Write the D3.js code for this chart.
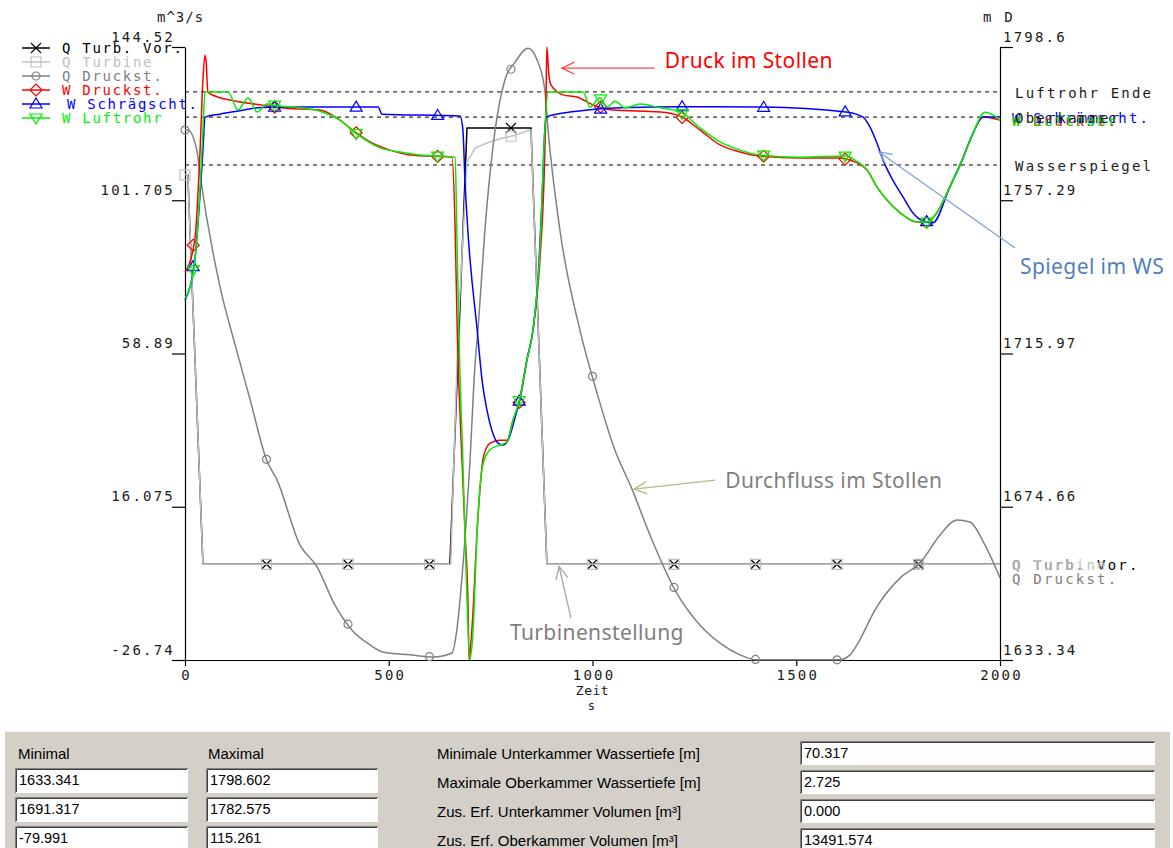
<!DOCTYPE html>
<html>
<head>
<meta charset="utf-8">
<script src="https://cdn.jsdelivr.net/npm/d3@7"></script>
<style>
  body { margin: 0; background: #fff; }
  .mono { font-family: 'DejaVu Sans Mono', monospace; font-size: 14px; letter-spacing: 2.2px; }
  .note { font-family: 'Noto Sans', sans-serif; font-size: 21px; letter-spacing: 0.4px; }
  .panel { font-family: 'Liberation Sans', Arial, sans-serif; font-size: 14.5px; fill: #000; }
  .plabel { font-family: 'Liberation Sans', Arial, sans-serif; font-size: 15px; fill: #000; }
</style>
</head>
<body>
<svg id="chart" width="1173" height="848"></svg>
<script>
// ---- data ----
const xTicks = [0, 500, 1000, 1500, 2000];
const qTicks = [144.52, 101.705, 58.89, 16.075, -26.74];
const qTickLabels = ['144.52', '101.705', '58.89', '16.075', '-26.74'];
const wTicks = [1798.6, 1757.29, 1715.97, 1674.66, 1633.34];
const wTickLabels = ['1798.6', '1757.29', '1715.97', '1674.66', '1633.34'];

const seriesNames = ['Q Turb. Vor.', 'Q Turbine', 'Q Druckst.', 'W Druckst.', 'W Schrägscht.', 'W Luftrohr'];

const refNames = ['Luftrohr Ende', 'Oberkammer', 'Wasserspiegel'];
const refLevels = [1786.5, 1779.7, 1766.8];

const markTQ = [0, 200, 400, 600, 800, 1000, 1200, 1400, 1600, 1800];
const markTW = [20, 220, 420, 620, 820, 1020, 1220, 1420, 1620, 1820];

// Q Turb. Vor.
const tTurbVor = [0, 7, 44, 650, 692, 849, 888, 2000];
const qTurbVor = [108.8, 108.8, 0, 0, 121.9, 121.9, 0, 0];

// Q Turbine
const tTurbine = [0, 7, 44, 652, 670, 692, 712, 741, 780, 805, 847, 849, 888, 2000];
const qTurbine = [108.8, 108.8, 0, 0, 65.4, 112.4, 116.3, 117.7, 119.1, 119.7, 121.3, 121.3, 0, 0];

// Q Druckst.
const tDruckQ = [0, 7, 29, 37, 86, 123, 160, 201, 226, 282, 324, 368, 410, 454, 486, 552, 609, 655, 667, 682,
  699, 712, 719, 736, 761, 785, 810, 842, 864, 883, 891, 920, 969, 1011, 1055, 1097, 1141, 1205, 1264, 1313,
  1362, 1404, 1509, 1605, 1632, 1656, 1693, 1755, 1804, 1853, 1894, 1926, 1963, 2000];
const qDruck = [121.3, 121.3, 115.7, 108.8, 77.5, 61.3, 45.9, 28.9, 23.5, 5.4, -0.7, -11.4, -18.4, -22.5, -24.5, -25.3, -25.9, -24.8, -18.4, -0.4,
  28.3, 56.2, 65.5, 93.4, 121.3, 135.3, 140.3, 144.2, 140.9, 132.5, 121.3, 93.4, 65.5, 47.9, 31.9, 21.0, 8.2, -7.7, -17.0, -22.0,
  -25.3, -26.7, -26.7, -26.7, -25.3, -21.1, -12.8, -3.8, 0.4, 8.2, 12.4, 11.8, 5.4, -3.8];

// W Druckst.
const tDruckW = [0, 24, 37, 44, 49, 52, 56, 74, 110, 184, 233, 331, 380, 417, 454, 503, 552, 655, 663, 668,
  680, 687, 695, 697, 704, 717, 731, 744, 749, 773, 790, 805, 822, 839, 854, 871, 881, 886, 888, 893,
  898, 928, 962, 1001, 1050, 1166, 1215, 1264, 1313, 1362, 1411, 1509, 1607, 1632, 1674, 1698, 1722, 1755, 1796, 1821,
  1845, 1877, 1907, 1934, 1958, 2000];
const wDruck = [1737.9, 1746.6, 1770.8, 1789.7, 1796.4, 1794.6, 1786.5, 1785.4, 1784.3, 1783.0, 1782.2, 1781.6, 1778.9, 1775.7, 1773.0, 1770.8, 1769.5, 1768.9, 1749.3, 1722.3,
  1686.5, 1668.4, 1646.0, 1633.34, 1641.4, 1668.4, 1687.3, 1691.3, 1691.8, 1692.6, 1692.6, 1698.0, 1703.4, 1714.2, 1722.3, 1741.2, 1762.7, 1784.3, 1798.6, 1791.1,
  1788.4, 1785.7, 1785.1, 1783.0, 1781.6, 1781.1, 1780.0, 1776.2, 1772.2, 1770.3, 1769.2, 1768.7, 1768.7, 1768.1, 1765.4, 1760.9, 1757.4, 1753.9, 1751.4, 1751.4,
  1753.9, 1760.9, 1768.1, 1775.4, 1779.7, 1778.9];

// W Schrägscht.
const tSchraeg = [0, 24, 44, 49, 86, 128, 177, 233, 474, 483, 675, 682, 687, 694, 717, 729, 741, 753, 768, 780,
  793, 805, 822, 839, 854, 866, 876, 883, 886, 928, 987, 1068, 1222, 1411, 1622, 1664, 1681, 1698, 1713, 1737,
  1762, 1786, 1811, 1835, 1877, 1907, 1934, 1958, 2000];
const wSchraeg = [1730.4, 1741.2, 1770.8, 1779.7, 1780.5, 1781.3, 1782.2, 1782.4, 1782.4, 1780.5, 1780.0, 1776.2, 1762.7, 1749.3, 1722.3, 1708.8, 1700.7, 1695.3, 1691.8, 1691.3,
  1692.6, 1696.7, 1704.0, 1714.2, 1722.3, 1735.8, 1757.4, 1776.2, 1779.7, 1780.8, 1781.6, 1782.2, 1782.5, 1782.4, 1781.1, 1779.7, 1777.0, 1772.7, 1768.1, 1762.7,
  1758.2, 1753.9, 1751.7, 1751.2, 1760.9, 1768.1, 1775.4, 1779.7, 1779.7];

// W Luftrohr
const tLuft = [0, 17, 29, 37, 44, 49, 106, 130, 155, 177, 201, 233, 282, 331, 380, 422, 479, 528, 577, 621,
  663, 667, 672, 682, 692, 699, 707, 717, 731, 748, 773, 790, 805, 822, 839, 854, 871, 883, 891, 977,
  994, 1018, 1036, 1055, 1080, 1117, 1166, 1215, 1264, 1313, 1362, 1411, 1509, 1622, 1644, 1674, 1698, 1722, 1755, 1796,
  1821, 1845, 1877, 1907, 1934, 1963, 1983, 2000];
const wLuft = [1730.9, 1735.8, 1746.6, 1760.9, 1776.2, 1786.5, 1786.5, 1781.6, 1784.9, 1781.1, 1783.2, 1782.7, 1782.2, 1781.3, 1778.9, 1775.1, 1771.4, 1770.3, 1769.5, 1769.2,
  1768.9, 1749.3, 1722.3, 1686.5, 1649.5, 1633.34, 1641.4, 1668.4, 1685.9, 1690.0, 1691.3, 1692.1, 1698.0, 1704.0, 1714.2, 1722.3, 1743.9, 1776.2, 1786.5, 1786.5,
  1782.4, 1784.9, 1782.4, 1784.0, 1782.2, 1783.2, 1782.2, 1781.1, 1776.8, 1773.0, 1770.8, 1769.5, 1768.9, 1769.2, 1768.1, 1765.4, 1760.9, 1757.4, 1753.9, 1751.4,
  1751.4, 1753.9, 1760.9, 1768.1, 1775.4, 1781.0, 1780.3, 1778.9];

// bottom panel
const minVals = ['1633.341', '1691.317', '-79.991'];
const maxVals = ['1798.602', '1782.575', '115.261'];
const infoLabels = ['Minimale Unterkammer Wassertiefe [m]', 'Maximale Oberkammer Wassertiefe [m]',
  'Zus. Erf. Unterkammer Volumen [m³]', 'Zus. Erf. Oberkammer Volumen [m³]'];
const infoVals = ['70.317', '2.725', '0.000', '13491.574'];

// ---- drawing ----
const svg = d3.select('#chart');

const x = d3.scaleLinear().domain([0, 2000]).range([185, 1000]);
const yQ = d3.scaleLinear().domain([-26.74, 144.52]).range([660, 47]);
const yW = d3.scaleLinear().domain([1633.34, 1798.6]).range([660, 47]);

function valueAt(ts, vs, t) {
  const i = d3.bisectRight(ts, t);
  if (i <= 0) return vs[0];
  if (i >= ts.length) return vs[vs.length - 1];
  const t0 = ts[i - 1], t1 = ts[i];
  return vs[i - 1] + (vs[i] - vs[i - 1]) * (t - t0) / (t1 - t0);
}

const markers = {
  cross: 'M-5,-5L5,5M-5,5L5,-5',
  square: 'M-5,-5H5V5H-5Z',
  circle: 'M-4,0A4,4 0 1,0 4,0A4,4 0 1,0 -4,0',
  diamond: 'M0,-6L6,0L0,6L-6,0Z',
  triUp: 'M0,-6L6,4H-6Z',
  triDown: 'M0,6L6,-4H-6Z'
};

const series = [
  { name: seriesNames[0], t: tTurbVor, v: qTurbVor, y: yQ, color: '#000000', mark: 'cross', mt: markTQ.slice(1), curve: d3.curveLinear },
  { name: seriesNames[1], t: tTurbine, v: qTurbine, y: yQ, color: '#c0c0c0', mark: 'square', mt: markTQ, curve: d3.curveLinear },
  { name: seriesNames[2], t: tDruckQ, v: qDruck, y: yQ, color: '#808080', mark: 'circle', mt: markTQ, curve: d3.curveMonotoneX },
  { name: seriesNames[3], t: tDruckW, v: wDruck, y: yW, color: '#ff0000', mark: 'diamond', mt: markTW, curve: d3.curveMonotoneX },
  { name: seriesNames[4], t: tSchraeg, v: wSchraeg, y: yW, color: '#0000ff', mark: 'triUp', mt: markTW, curve: d3.curveMonotoneX },
  { name: seriesNames[5], t: tLuft, v: wLuft, y: yW, color: '#00f000', mark: 'triDown', mt: markTW, curve: d3.curveMonotoneX }
];

// reference levels (dashed)
svg.append('g').selectAll('line')
  .data(refLevels)
  .enter()
  .append('line')
  .attr('x1', x(0)).attr('x2', x(2000))
  .attr('y1', d => yW(d)).attr('y2', d => yW(d))
  .attr('stroke', '#000').attr('stroke-width', 1)
  .attr('stroke-dasharray', '4,4');

// axes
const leftAxis = svg.append('g')
  .attr('transform', `translate(${x(0)},0)`)
  .call(d3.axisLeft(yQ).tickValues(qTicks).tickSize(13).tickSizeOuter(0).tickFormat((d, i) => qTickLabels[i]));
const rightAxis = svg.append('g')
  .attr('transform', `translate(${x(2000)},0)`)
  .call(d3.axisRight(yW).tickValues(wTicks).tickSize(13).tickSizeOuter(0).tickFormat((d, i) => wTickLabels[i]));
const bottomAxis = svg.append('g')
  .attr('transform', `translate(0,${yQ(-26.74)})`)
  .call(d3.axisBottom(x).tickValues(xTicks).tickSize(6).tickSizeOuter(0).tickFormat(d3.format('d')));

[leftAxis, rightAxis, bottomAxis].forEach(g => {
  g.attr('font-size', null).attr('font-family', null);
  g.selectAll('path, line').attr('stroke', '#000').attr('stroke-width', 1.2);
  g.selectAll('text').attr('class', 'mono').attr('fill', '#1a1a1a');
});
leftAxis.selectAll('text').attr('x', -10).attr('y', -6).attr('dy', 0);
rightAxis.selectAll('text').attr('x', 3).attr('y', -6).attr('dy', 0);
bottomAxis.selectAll('text').attr('y', 9).attr('dy', '0.75em').attr('dx', '1px');

svg.append('text').attr('class', 'mono').attr('x', 157).attr('y', 22).attr('fill', '#1a1a1a')
  .style('letter-spacing', '1px').text('m^3/s');
svg.append('text').attr('class', 'mono').attr('x', 983).attr('y', 22).attr('fill', '#1a1a1a').text('m D');
svg.append('text').attr('class', 'mono').attr('x', x(1000)).attr('y', 695).attr('text-anchor', 'middle')
  .attr('fill', '#1a1a1a').style('font-size', '13px').style('letter-spacing', '0.5px').text('Zeit');
svg.append('text').attr('class', 'mono').attr('x', x(1000)).attr('y', 710).attr('text-anchor', 'middle')
  .attr('fill', '#1a1a1a').style('font-size', '12px').text('s');

// series lines + markers
series.forEach(s => {
  const pts = d3.zip(s.t, s.v);
  const line = d3.line().x(d => x(d[0])).y(d => s.y(d[1])).curve(s.curve);
  svg.append('path')
    .datum(pts)
    .attr('d', line)
    .attr('fill', 'none')
    .attr('stroke', s.color)
    .attr('stroke-width', 1.5);
  svg.append('g').selectAll('path')
    .data(s.mt)
    .enter()
    .append('path')
    .attr('d', markers[s.mark])
    .attr('transform', d => `translate(${x(d)},${s.y(valueAt(s.t, s.v, d))})`)
    .attr('fill', 'none')
    .attr('stroke', s.color)
    .attr('stroke-width', 1.2);
});

// end labels of the series (they overlap in the original too)
series.forEach(s => {
  svg.append('text')
    .attr('class', 'mono')
    .attr('x', 1012)
    .attr('y', s.y(s.v[s.v.length - 1]) + 6)
    .attr('fill', s.color)
    .text(s.name);
});

// labels of the dashed levels
svg.append('g').selectAll('text')
  .data(refLevels)
  .enter()
  .append('text')
  .attr('class', 'mono')
  .attr('x', 1015)
  .attr('y', d => yW(d) + 6)
  .attr('fill', '#1a1a1a')
  .text((d, i) => refNames[i]);

// legend
const legend = svg.append('g').attr('transform', 'translate(22,48)');
series.forEach((s, i) => {
  const row = legend.append('g').attr('transform', `translate(0,${i * 14})`);
  row.append('line').attr('x1', 0).attr('x2', 28).attr('stroke', s.color).attr('stroke-width', 1.5);
  row.append('path').attr('d', markers[s.mark]).attr('transform', 'translate(14,0)')
    .attr('fill', 'none').attr('stroke', s.color).attr('stroke-width', 1.2);
  row.append('text').attr('class', 'mono').attr('x', i === 4 ? 45 : 40).attr('y', 5)
    .attr('fill', s.color).style('letter-spacing', '1.7px').text(s.name);
});

// annotations with arrows (anchored in data coordinates)
function arrow(x1, y1, x2, y2, color) {
  const a = Math.atan2(y1 - y2, x1 - x2), len = 14, spread = 0.45;
  const p1 = [x2 + len * Math.cos(a + spread), y2 + len * Math.sin(a + spread)];
  const p2 = [x2 + len * Math.cos(a - spread), y2 + len * Math.sin(a - spread)];
  svg.append('line').attr('x1', x1).attr('y1', y1).attr('x2', x2).attr('y2', y2)
    .attr('stroke', color).attr('stroke-width', 1.3);
  svg.append('path').attr('d', `M${p1}L${x2},${y2}L${p2}`)
    .attr('fill', 'none').attr('stroke', color).attr('stroke-width', 1.3);
}
const notes = [
  { text: 'Druck im Stollen', color: '#ff0000', arrowColor: '#ff4a4a', tail: [1153, 1792.9], tip: [925, 1792.9], y: yW, dx: 10, dy: 0 },
  { text: 'Spiegel im WS', color: '#4f81bd', arrowColor: '#7ea6d8', tail: [2037, 1744.4], tip: [1703, 1770.3], y: yW, dx: 5, dy: 26 },
  { text: 'Durchfluss im Stollen', color: '#7f7f7f', arrowColor: '#afbc82', tail: [1301, 23.5], tip: [1102, 21.0], y: yQ, dx: 10, dy: 8 },
  { text: 'Turbinenstellung', color: '#7f7f7f', arrowColor: '#a6a6a6', tail: [947, -15.0], tip: [918, -0.6], y: yQ, dx: -61, dy: 22 }
];
notes.forEach(n => {
  const tx = x(n.tail[0]), ty = n.y(n.tail[1]);
  arrow(tx, ty, x(n.tip[0]), n.y(n.tip[1]), n.arrowColor);
  svg.append('text').attr('class', 'note').attr('x', tx + n.dx).attr('y', ty + n.dy)
    .attr('fill', n.color).text(n.text);
});

// bottom panel
const panel = svg.append('g');
panel.append('rect').attr('x', 5).attr('y', 731).attr('width', 1165).attr('height', 117).attr('fill', '#d4d0c8');
panel.append('line').attr('x1', 5).attr('x2', 1170).attr('y1', 731.5).attr('y2', 731.5).attr('stroke', '#f4f3ef');

function box(bx, by, bw, bh, txt) {
  panel.append('rect').attr('x', bx).attr('y', by).attr('width', bw).attr('height', bh).attr('fill', '#fff');
  panel.append('path').attr('d', `M${bx + 0.5},${by + bh}V${by + 0.5}H${bx + bw}`)
    .attr('fill', 'none').attr('stroke', '#808080');
  panel.append('path').attr('d', `M${bx + 1.5},${by + bh - 1}V${by + 1.5}H${bx + bw - 1}`)
    .attr('fill', 'none').attr('stroke', '#404040');
  panel.append('text').attr('class', 'panel').attr('x', bx + 4).attr('y', by + 17).text(txt);
}

panel.append('text').attr('class', 'plabel').attr('x', 18).attr('y', 759).text('Minimal');
panel.append('text').attr('class', 'plabel').attr('x', 208).attr('y', 759).text('Maximal');
const rowY = [768, 797, 826];
minVals.forEach((v, i) => box(15, rowY[i], 173, 25, v));
maxVals.forEach((v, i) => box(206, rowY[i], 172, 25, v));
const infoY = [741, 770, 799, 828];
infoLabels.forEach((l, i) => {
  panel.append('text').attr('class', 'plabel').attr('x', 437).attr('y', infoY[i] + 18).text(l);
  box(800, infoY[i], 355, 24, infoVals[i]);
});
</script>
</body>
</html>
